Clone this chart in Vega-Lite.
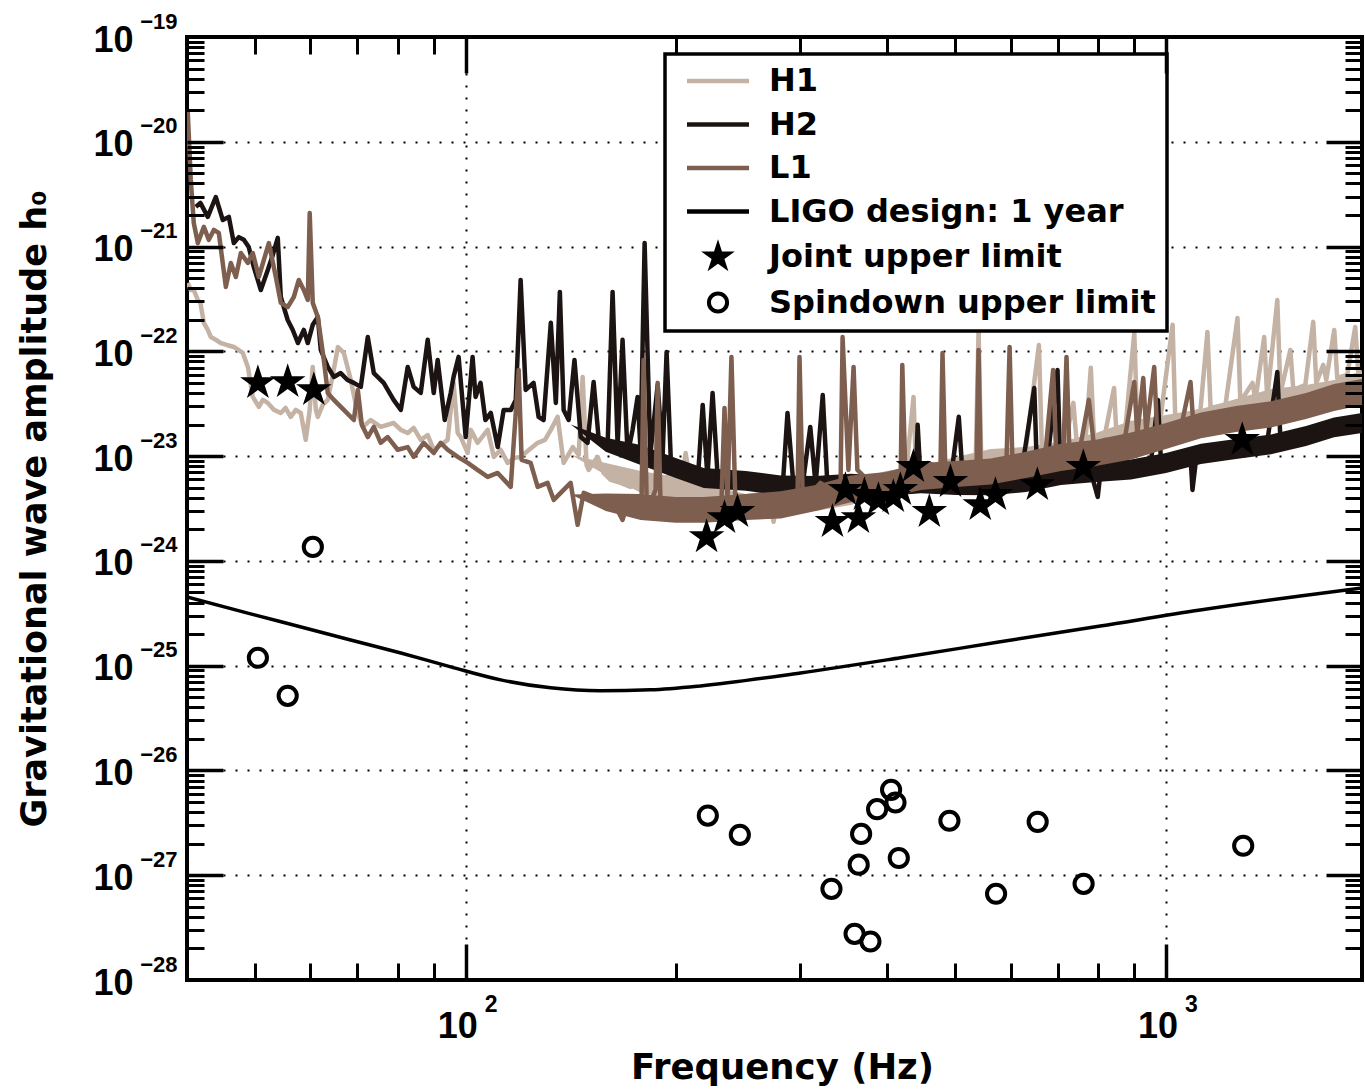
{
"$schema": "https://vega.github.io/schema/vega-lite/v6.json",
"width": 1175, "height": 943,
"autosize": {"type": "none"},
"padding": {"left": 187, "top": 37, "right": 3, "bottom": 112},
"background": "white",
"config": {"view": {"stroke": "black", "strokeWidth": 4}, "axis": {"domain": false, "labelColor": "black", "tickColor": "black", "titleColor": "black", "labelFlush": false, "labelOverlap": false}},
"datasets": {
"H1band": [{"f":141.3,"lo":1.03e-23,"hi":1.03e-23},{"f":158.5,"lo":6.6e-24,"hi":8.6e-24},{"f":177.8,"lo":4.46e-24,"hi":7.22e-24},{"f":199.5,"lo":3.9e-24,"hi":6.33e-24},{"f":218.8,"lo":3.35e-24,"hi":5.43e-24},{"f":251.2,"lo":2.69e-24,"hi":4.36e-24},{"f":281.8,"lo":2.97e-24,"hi":4.81e-24},{"f":316.2,"lo":3.0e-24,"hi":4.87e-24},{"f":354.8,"lo":3.42e-24,"hi":5.67e-24},{"f":398.1,"lo":4.46e-24,"hi":7.22e-24},{"f":446.7,"lo":4.97e-24,"hi":8.06e-24},{"f":501.2,"lo":6.06e-24,"hi":9.83e-24},{"f":562.3,"lo":7.07e-24,"hi":1.17e-23},{"f":631,"lo":7.55e-24,"hi":1.22e-23},{"f":707.9,"lo":8.42e-24,"hi":1.37e-23},{"f":794.3,"lo":1.03e-23,"hi":1.66e-23},{"f":891.3,"lo":1.31e-23,"hi":2.17e-23},{"f":1000,"lo":1.52e-23,"hi":2.47e-23},{"f":1122,"lo":1.74e-23,"hi":2.82e-23},{"f":1258.9,"lo":2.17e-23,"hi":3.51e-23},{"f":1412.5,"lo":2.64e-23,"hi":4.38e-23},{"f":1584.9,"lo":2.95e-23,"hi":4.78e-23},{"f":1737.8,"lo":3.29e-23,"hi":5.33e-23},{"f":1905,"lo":4.01e-23,"hi":6.5e-23}],
"H2band": [{"f":141.3,"lo":2.0e-23,"hi":2.0e-23},{"f":158.5,"lo":1.1e-23,"hi":1.5e-23},{"f":177.8,"lo":8.24e-24,"hi":1.28e-23},{"f":199.5,"lo":6.19e-24,"hi":9.61e-24},{"f":218.8,"lo":4.97e-24,"hi":7.72e-24},{"f":251.2,"lo":4.66e-24,"hi":7.22e-24},{"f":281.8,"lo":4.22e-24,"hi":6.54e-24},{"f":316.2,"lo":4.17e-24,"hi":6.47e-24},{"f":354.8,"lo":4.36e-24,"hi":6.77e-24},{"f":398.1,"lo":4.17e-24,"hi":6.47e-24},{"f":446.7,"lo":4.41e-24,"hi":6.84e-24},{"f":501.2,"lo":4.26e-24,"hi":6.62e-24},{"f":562.3,"lo":4.22e-24,"hi":6.54e-24},{"f":631,"lo":4.55e-24,"hi":7.07e-24},{"f":707.9,"lo":5.31e-24,"hi":8.24e-24},{"f":794.3,"lo":5.67e-24,"hi":8.8e-24},{"f":891.3,"lo":5.99e-24,"hi":9.29e-24},{"f":1000,"lo":6.91e-24,"hi":1.07e-23},{"f":1122,"lo":8.42e-24,"hi":1.31e-23},{"f":1258.9,"lo":9.4e-24,"hi":1.46e-23},{"f":1412.5,"lo":1.04e-23,"hi":1.61e-23},{"f":1584.9,"lo":1.25e-23,"hi":1.94e-23},{"f":1737.8,"lo":1.51e-23,"hi":2.34e-23},{"f":1905,"lo":1.66e-23,"hi":2.58e-23}],
"L1band": [{"f":141.3,"lo":4.3e-24,"hi":4.3e-24},{"f":158.5,"lo":3.0e-24,"hi":4.4e-24},{"f":177.8,"lo":2.46e-24,"hi":4.36e-24},{"f":199.5,"lo":2.31e-24,"hi":4.08e-24},{"f":218.8,"lo":2.31e-24,"hi":4.08e-24},{"f":251.2,"lo":2.46e-24,"hi":4.36e-24},{"f":281.8,"lo":2.54e-24,"hi":4.61e-24},{"f":316.2,"lo":3.0e-24,"hi":5.31e-24},{"f":354.8,"lo":3.62e-24,"hi":6.54e-24},{"f":398.1,"lo":3.99e-24,"hi":7.07e-24},{"f":446.7,"lo":4.76e-24,"hi":8.61e-24},{"f":501.2,"lo":5.08e-24,"hi":9.0e-24},{"f":562.3,"lo":5.37e-24,"hi":9.5e-24},{"f":631,"lo":6.19e-24,"hi":1.1e-23},{"f":707.9,"lo":7.22e-24,"hi":1.31e-23},{"f":794.3,"lo":8.06e-24,"hi":1.43e-23},{"f":891.3,"lo":9.29e-24,"hi":1.68e-23},{"f":1000,"lo":1.17e-23,"hi":2.07e-23},{"f":1122,"lo":1.48e-23,"hi":2.61e-23},{"f":1258.9,"lo":1.7e-23,"hi":3.01e-23},{"f":1412.5,"lo":1.88e-23,"hi":3.33e-23},{"f":1584.9,"lo":2.26e-23,"hi":4.01e-23},{"f":1737.8,"lo":2.7e-23,"hi":4.89e-23},{"f":1905,"lo":3.08e-23,"hi":5.45e-23}],
"H1": [{"f":40.1,"h":4.49e-22},{"f":40.5,"h":3.85e-22},{"f":40.9,"h":3.85e-22},{"f":41.45,"h":3.09e-22},{"f":41.8,"h":2.9e-22},{"f":42.28,"h":1.87e-22},{"f":42.83,"h":1.6e-22},{"f":43.26,"h":1.37e-22},{"f":43.97,"h":1.29e-22},{"f":44.71,"h":1.2e-22},{"f":45.6,"h":1.15e-22},{"f":46.66,"h":1.1e-22},{"f":48.06,"h":9.65e-23},{"f":48.86,"h":7.1e-23},{"f":49.66,"h":3.67e-23},{"f":50.66,"h":2.95e-23},{"f":51.33,"h":3.44e-23},{"f":52.17,"h":3.22e-23},{"f":53.26,"h":2.76e-23},{"f":54.45,"h":2.58e-23},{"f":55.3,"h":2.88e-23},{"f":56.25,"h":2.37e-23},{"f":57.2,"h":2.76e-23},{"f":58.15,"h":2.58e-23},{"f":59.1,"h":1.43e-23},{"f":59.88,"h":2.76e-23},{"f":60.48,"h":7.1e-23},{"f":61.1,"h":2.76e-23},{"f":61.5,"h":2.37e-23},{"f":62.5,"h":3.08e-23},{"f":63.55,"h":3.44e-23},{"f":64.6,"h":5.96e-23},{"f":65.7,"h":1.1e-22},{"f":66.99,"h":9.65e-23},{"f":68.55,"h":5.33e-23},{"f":69.9,"h":2.76e-23},{"f":71.3,"h":1.9e-23},{"f":73.2,"h":2.21e-23},{"f":75.63,"h":1.9e-23},{"f":78.9,"h":2.07e-23},{"f":80.8,"h":1.78e-23},{"f":82.65,"h":1.66e-23},{"f":84.28,"h":1.86e-23},{"f":86.26,"h":1.43e-23},{"f":88.26,"h":1.59e-23},{"f":90.03,"h":1.15e-23},{"f":92.12,"h":1.28e-23},{"f":94.25,"h":1.43e-23},{"f":96.1,"h":5.0e-23},{"f":97.42,"h":1.66e-23},{"f":98.4,"h":1.52e-23},{"f":100.67,"h":1.07e-23},{"f":101.7,"h":1.78e-23},{"f":103.97,"h":1.34e-23},{"f":107.5,"h":1.78e-23},{"f":109.7,"h":9.83e-24},{"f":112.2,"h":1.15e-23},{"f":114.8,"h":8.61e-24},{"f":117.2,"h":9.6e-24},{"f":119.8,"h":9.83e-24},{"f":123.2,"h":1.15e-23},{"f":126.7,"h":1.34e-23},{"f":129.8,"h":1.43e-23},{"f":132.3,"h":1.78e-23},{"f":135.3,"h":2.37e-23},{"f":138.0,"h":8.61e-24},{"f":142.2,"h":1.22e-23},{"f":145.0,"h":1.03e-23},{"f":146.9,"h":5.7e-23},{"f":148.8,"h":8.24e-24},{"f":149.8,"h":7.39e-24},{"f":154.3,"h":9.83e-24},{"f":157.4,"h":6.91e-24},{"f":161.1,"h":5.93e-24},{"f":166.4,"h":5.55e-24},{"f":172.0,"h":5.08e-24},{"f":177.7,"h":5.93e-24},{"f":185.5,"h":5.55e-24},{"f":194.4,"h":6.33e-24},{"f":202.7,"h":4.76e-24},{"f":206.1,"h":1.07e-23},{"f":209.5,"h":5.31e-24},{"f":214.4,"h":5.55e-24},{"f":221.4,"h":4.46e-24},{"f":228.9,"h":4.76e-24},{"f":236.5,"h":4.08e-24},{"f":247.1,"h":3.58e-24},{"f":261,"h":3.28e-24},{"f":272.4,"h":3.42e-24},{"f":275.2,"h":2.36e-24},{"f":277.9,"h":3.42e-24},{"f":291,"h":3.82e-24},{"f":300.7,"h":3.99e-24},{"f":316,"h":4.26e-24},{"f":332,"h":4.55e-24},{"f":348.5,"h":4.76e-24},{"f":366,"h":5.08e-24},{"f":385,"h":5.31e-24},{"f":404,"h":5.67e-24},{"f":424.5,"h":5.93e-24},{"f":436,"h":3.67e-23},{"f":440,"h":6.2e-24},{"f":461,"h":6.62e-24},{"f":484,"h":7.06e-24},{"f":508,"h":7.39e-24},{"f":534.7,"h":7.72e-24},{"f":540,"h":1.6e-22},{"f":545,"h":8.06e-24},{"f":571,"h":8.8e-24},{"f":600,"h":9.6e-24},{"f":630,"h":1.1e-23},{"f":658.5,"h":1.15e-22},{"f":665,"h":1.15e-23},{"f":694.5,"h":1.22e-23},{"f":718,"h":1.37e-23},{"f":737.5,"h":3.22e-23},{"f":745,"h":1.43e-23},{"f":768,"h":1.49e-23},{"f":781,"h":6.97e-23},{"f":789,"h":1.52e-23},{"f":819.5,"h":1.7e-23},{"f":843,"h":4.47e-23},{"f":849,"h":1.78e-23},{"f":875,"h":1.86e-23},{"f":901,"h":1.5e-22},{"f":910,"h":1.99e-23},{"f":950,"h":2.21e-23},{"f":980,"h":2.07e-23},{"f":1022,"h":1.79e-22},{"f":1031,"h":2.31e-23},{"f":1084,"h":2.47e-23},{"f":1120,"h":2.76e-23},{"f":1146,"h":1.53e-22},{"f":1158,"h":2.88e-23},{"f":1216,"h":3.08e-23},{"f":1265,"h":2.08e-22},{"f":1277,"h":3.29e-23},{"f":1329,"h":5.0e-23},{"f":1342,"h":3.44e-23},{"f":1381,"h":1.37e-22},{"f":1395,"h":3.59e-23},{"f":1442,"h":3.09e-22},{"f":1457,"h":4.01e-23},{"f":1505,"h":1.03e-22},{"f":1520,"h":4.28e-23},{"f":1581,"h":4.78e-23},{"f":1623,"h":1.91e-22},{"f":1639,"h":5.0e-23},{"f":1677,"h":7.42e-23},{"f":1694,"h":5.33e-23},{"f":1739,"h":1.6e-22},{"f":1756,"h":5.57e-23},{"f":1815,"h":5.96e-23},{"f":1863,"h":1.71e-22},{"f":1882,"h":6.2e-23},{"f":1905,"h":6.35e-23}],
"H2": [{"f":41.18,"h":2.39e-21},{"f":41.8,"h":2.61e-21},{"f":42.83,"h":1.92e-21},{"f":43.97,"h":2.97e-21},{"f":45.0,"h":1.79e-21},{"f":45.9,"h":1.92e-21},{"f":46.66,"h":1.08e-21},{"f":47.43,"h":1.23e-21},{"f":48.22,"h":1.16e-21},{"f":49.0,"h":9.9e-22},{"f":49.82,"h":6.39e-22},{"f":50.99,"h":3.85e-22},{"f":52.17,"h":5.98e-22},{"f":53.04,"h":8.32e-22},{"f":53.91,"h":1.21e-21},{"f":54.45,"h":3.3e-22},{"f":55.7,"h":1.99e-22},{"f":56.64,"h":1.6e-22},{"f":57.6,"h":1.2e-22},{"f":58.73,"h":1.6e-22},{"f":59.5,"h":1.2e-22},{"f":60.48,"h":1.79e-22},{"f":61.5,"h":2.13e-22},{"f":62.1,"h":1.03e-22},{"f":63.55,"h":7.1e-23},{"f":64.82,"h":5.7e-23},{"f":66.3,"h":6.2e-23},{"f":67.8,"h":5.33e-23},{"f":69.23,"h":5.0e-23},{"f":70.83,"h":4.58e-23},{"f":72.48,"h":1.37e-22},{"f":73.93,"h":6.2e-23},{"f":76.37,"h":5.0e-23},{"f":78.9,"h":3.44e-23},{"f":80.8,"h":2.76e-23},{"f":82.65,"h":7.1e-23},{"f":84.28,"h":4.58e-23},{"f":86.26,"h":4.01e-23},{"f":88.26,"h":1.29e-22},{"f":90.03,"h":4.01e-23},{"f":91.2,"h":8.28e-23},{"f":93.35,"h":2.21e-23},{"f":95.2,"h":4.01e-23},{"f":96.1,"h":5.7e-23},{"f":97.7,"h":8.85e-23},{"f":100,"h":1.52e-23},{"f":102.3,"h":8.85e-23},{"f":103.3,"h":3.67e-23},{"f":105,"h":5.0e-23},{"f":106.7,"h":2.21e-23},{"f":108.6,"h":2.58e-23},{"f":111.1,"h":1.22e-23},{"f":113.3,"h":2.76e-23},{"f":116,"h":2.76e-23},{"f":117.9,"h":3.44e-23},{"f":119.8,"h":4.8e-22},{"f":121.8,"h":4.28e-23},{"f":125,"h":5.0e-23},{"f":127.1,"h":2.37e-23},{"f":129.2,"h":2.21e-23},{"f":132.3,"h":1.87e-22},{"f":134.5,"h":3.22e-23},{"f":136.3,"h":3.69e-22},{"f":138.0,"h":2.76e-23},{"f":140.3,"h":2.21e-23},{"f":143,"h":8.28e-23},{"f":146,"h":1.52e-23},{"f":149.3,"h":1.34e-23},{"f":152.3,"h":5.1e-23},{"f":154.9,"h":1.43e-23},{"f":159.5,"h":1.34e-23},{"f":162.1,"h":3.69e-22},{"f":164.8,"h":1.28e-23},{"f":167.5,"h":1.29e-22},{"f":170.3,"h":1.03e-23},{"f":173.1,"h":1.78e-23},{"f":176.0,"h":3.67e-23},{"f":177.7,"h":1.15e-23},{"f":180.1,"h":1.08e-21},{"f":183.5,"h":1.03e-23},{"f":188.0,"h":4.78e-23},{"f":191.1,"h":1.03e-23},{"f":193.6,"h":9.85e-23},{"f":196.3,"h":9.2e-24},{"f":202.7,"h":7.39e-24},{"f":209.5,"h":7.39e-24},{"f":214.4,"h":5.67e-24},{"f":218.0,"h":3.08e-23},{"f":221.4,"h":6.33e-24},{"f":225.2,"h":4.01e-23},{"f":228.9,"h":6.62e-24},{"f":236.5,"h":5.55e-24},{"f":247.1,"h":5.93e-24},{"f":258.4,"h":6.33e-24},{"f":267.5,"h":5.08e-24},{"f":275.2,"h":5.55e-24},{"f":283.7,"h":5.31e-24},{"f":288.1,"h":2.58e-23},{"f":294.2,"h":4.76e-24},{"f":302.8,"h":5.31e-24},{"f":310.5,"h":1.9e-23},{"f":316,"h":5.31e-24},{"f":323.5,"h":3.83e-23},{"f":328.5,"h":5.31e-24},{"f":343,"h":4.98e-24},{"f":360,"h":4.76e-24},{"f":378.4,"h":5.08e-24},{"f":397.5,"h":4.98e-24},{"f":418,"h":5.31e-24},{"f":439,"h":5.55e-24},{"f":442,"h":1.99e-23},{"f":446.5,"h":5.55e-24},{"f":468.6,"h":5.31e-24},{"f":492,"h":5.55e-24},{"f":506,"h":2.37e-23},{"f":513,"h":5.67e-24},{"f":534.7,"h":5.31e-24},{"f":562,"h":5.55e-24},{"f":589,"h":5.31e-24},{"f":619.5,"h":5.93e-24},{"f":648.5,"h":4.47e-23},{"f":655,"h":5.93e-24},{"f":673,"h":6.2e-24},{"f":700,"h":6.65e-23},{"f":707,"h":6.33e-24},{"f":743,"h":6.62e-24},{"f":768,"h":5.93e-24},{"f":781,"h":7.06e-24},{"f":799,"h":4.08e-24},{"f":807,"h":7.39e-24},{"f":847,"h":7.72e-24},{"f":866,"h":6.62e-24},{"f":890,"h":8.24e-24},{"f":935,"h":9.2e-24},{"f":950,"h":7.89e-24},{"f":974,"h":3.44e-23},{"f":983,"h":9.6e-24},{"f":1031,"h":1.03e-23},{"f":1066,"h":8.8e-24},{"f":1084,"h":1.0e-23},{"f":1091,"h":4.76e-24},{"f":1105,"h":9.83e-24},{"f":1158,"h":1.03e-23},{"f":1188,"h":1.2e-23},{"f":1216,"h":1.12e-23},{"f":1277,"h":1.2e-23},{"f":1311,"h":1.43e-23},{"f":1342,"h":1.28e-23},{"f":1395,"h":1.37e-23},{"f":1442,"h":6.35e-23},{"f":1457,"h":1.43e-23},{"f":1530,"h":1.49e-23},{"f":1570,"h":1.78e-23},{"f":1605,"h":1.63e-23},{"f":1685,"h":1.74e-23},{"f":1733,"h":1.99e-23},{"f":1774,"h":1.86e-23},{"f":1845,"h":1.93e-23},{"f":1905,"h":2.07e-23}],
"L1": [{"f":40.1,"h":1.93e-20},{"f":40.5,"h":4.32e-21},{"f":40.9,"h":1.68e-21},{"f":41.45,"h":1.08e-21},{"f":42.28,"h":1.54e-21},{"f":42.97,"h":1.16e-21},{"f":43.69,"h":1.44e-21},{"f":44.41,"h":1.35e-21},{"f":45.45,"h":4.12e-22},{"f":46.2,"h":6.97e-22},{"f":46.97,"h":5.13e-22},{"f":47.75,"h":8.68e-22},{"f":48.86,"h":6.97e-22},{"f":49.66,"h":8.68e-22},{"f":50.66,"h":5.13e-22},{"f":52.35,"h":1.08e-21},{"f":53.57,"h":5.13e-22},{"f":54.45,"h":2.9e-22},{"f":55.7,"h":2.65e-22},{"f":56.83,"h":3.3e-22},{"f":57.77,"h":4.8e-22},{"f":58.73,"h":3.85e-22},{"f":59.5,"h":3.09e-22},{"f":59.88,"h":2.09e-21},{"f":60.48,"h":2.9e-22},{"f":61.5,"h":2.13e-22},{"f":62.72,"h":8.28e-23},{"f":63.55,"h":4.01e-23},{"f":64.82,"h":3.44e-23},{"f":66.99,"h":2.76e-23},{"f":69.23,"h":2.21e-23},{"f":70.14,"h":4.28e-23},{"f":71.07,"h":1.99e-23},{"f":72.48,"h":1.52e-23},{"f":73.93,"h":1.9e-23},{"f":75.63,"h":1.34e-23},{"f":77.39,"h":1.52e-23},{"f":79.97,"h":1.15e-23},{"f":82.65,"h":1.22e-23},{"f":84.28,"h":9.83e-24},{"f":87.11,"h":1.34e-23},{"f":90.03,"h":1.07e-23},{"f":92.12,"h":1.34e-23},{"f":94.25,"h":1.15e-23},{"f":97.42,"h":9.83e-24},{"f":100.67,"h":8.61e-24},{"f":103.97,"h":7.39e-24},{"f":107.5,"h":6.33e-24},{"f":111.1,"h":6.91e-24},{"f":115.96,"h":5.08e-24},{"f":119.04,"h":6.65e-23},{"f":120.2,"h":9.2e-24},{"f":123.8,"h":8.61e-24},{"f":126.7,"h":5.08e-24},{"f":130.9,"h":5.55e-24},{"f":133.6,"h":3.82e-24},{"f":138.0,"h":4.76e-24},{"f":141.2,"h":5.55e-24},{"f":144.5,"h":2.21e-24},{"f":147.4,"h":4.46e-24},{"f":152.3,"h":4.08e-24},{"f":157.4,"h":3.82e-24},{"f":162.7,"h":3.58e-24},{"f":167.5,"h":2.46e-24},{"f":170.3,"h":3.58e-24},{"f":176.0,"h":2.87e-24},{"f":178.3,"h":3.82e-24},{"f":179.5,"h":8.28e-23},{"f":181.3,"h":3.82e-24},{"f":183.5,"h":3.58e-24},{"f":186.7,"h":4.76e-24},{"f":188,"h":5.0e-23},{"f":189.8,"h":3.42e-24},{"f":198.1,"h":2.87e-24},{"f":204.8,"h":2.63e-24},{"f":211.5,"h":3.07e-24},{"f":218.6,"h":3.82e-24},{"f":225.9,"h":3.28e-24},{"f":231.9,"h":3.82e-24},{"f":234.2,"h":2.88e-23},{"f":236.5,"h":3.82e-24},{"f":239.6,"h":8.85e-23},{"f":242.8,"h":3.42e-24},{"f":255.2,"h":3.58e-24},{"f":263.7,"h":3.28e-24},{"f":275.2,"h":4.08e-24},{"f":288.1,"h":4.08e-24},{"f":297.8,"h":4.26e-24},{"f":299.7,"h":8.85e-23},{"f":302.8,"h":4.26e-24},{"f":307.9,"h":4.08e-24},{"f":321,"h":5.55e-24},{"f":332,"h":4.76e-24},{"f":343,"h":5.31e-24},{"f":345.3,"h":1.37e-22},{"f":352,"h":7.39e-24},{"f":358,"h":7.1e-23},{"f":362.5,"h":7.39e-24},{"f":378.4,"h":5.55e-24},{"f":391,"h":6.33e-24},{"f":408,"h":6.33e-24},{"f":418,"h":6.62e-24},{"f":420.2,"h":7.42e-23},{"f":424.5,"h":6.62e-24},{"f":431.6,"h":6.33e-24},{"f":456.4,"h":8.61e-24},{"f":476.4,"h":7.72e-24},{"f":479.6,"h":9.65e-23},{"f":484,"h":7.72e-24},{"f":492,"h":7.39e-24},{"f":514,"h":8.61e-24},{"f":536.5,"h":8.24e-24},{"f":540,"h":1.03e-22},{"f":543.5,"h":8.24e-24},{"f":556,"h":7.89e-24},{"f":581,"h":8.61e-24},{"f":592,"h":9.2e-24},{"f":598,"h":1.1e-22},{"f":603.5,"h":8.8e-24},{"f":630,"h":1.03e-23},{"f":651,"h":8.8e-24},{"f":673,"h":1.1e-23},{"f":690,"h":6.65e-23},{"f":697,"h":1.03e-23},{"f":713.8,"h":1.15e-23},{"f":721,"h":8.85e-23},{"f":728,"h":1.1e-23},{"f":754,"h":1.2e-23},{"f":776,"h":3.44e-23},{"f":789,"h":1.28e-23},{"f":819.5,"h":1.43e-23},{"f":847,"h":1.28e-23},{"f":875,"h":1.59e-23},{"f":901,"h":5.1e-23},{"f":910,"h":1.59e-23},{"f":928,"h":5.57e-23},{"f":937,"h":1.7e-23},{"f":962,"h":7.1e-23},{"f":971,"h":1.78e-23},{"f":1015,"h":1.99e-23},{"f":1049,"h":1.78e-23},{"f":1084,"h":5.1e-23},{"f":1094,"h":1.99e-23},{"f":1139,"h":2.21e-23},{"f":1177,"h":1.99e-23},{"f":1228,"h":2.47e-23},{"f":1277,"h":2.31e-23},{"f":1329,"h":2.76e-23},{"f":1386,"h":2.64e-23},{"f":1447,"h":3.08e-23},{"f":1505,"h":2.88e-23},{"f":1565,"h":3.44e-23},{"f":1634,"h":3.29e-23},{"f":1704,"h":3.83e-23},{"f":1774,"h":3.59e-23},{"f":1845,"h":4.28e-23},{"f":1905,"h":4.78e-23}],
"design": [{"f":40,"h":4.53e-25},{"f":49.3,"h":3.12e-25},{"f":58.2,"h":2.34e-25},{"f":68.5,"h":1.76e-25},{"f":80.8,"h":1.32e-25},{"f":95.2,"h":9.74e-26},{"f":112.2,"h":7.32e-26},{"f":132.2,"h":6.14e-26},{"f":155.8,"h":5.75e-26},{"f":183.7,"h":5.88e-26},{"f":216.4,"h":6.41e-26},{"f":300.7,"h":8.53e-26},{"f":417.6,"h":1.19e-25},{"f":580,"h":1.69e-25},{"f":805.9,"h":2.39e-25},{"f":1119,"h":3.4e-25},{"f":1555,"h":4.63e-25},{"f":1905,"h":5.52e-25}],
"joint": [{"f":50.5,"h":4.99e-23},{"f":55.7,"h":5.1e-23},{"f":60.7,"h":4.28e-23},{"f":220.8,"h":1.69e-24},{"f":234.2,"h":2.57e-24},{"f":244.4,"h":2.94e-24},{"f":334,"h":2.36e-24},{"f":348.5,"h":4.76e-24},{"f":363.8,"h":2.57e-24},{"f":371,"h":4.27e-24},{"f":388.5,"h":3.82e-24},{"f":408,"h":4.08e-24},{"f":417.6,"h":4.76e-24},{"f":435.9,"h":7.89e-24},{"f":459.3,"h":2.94e-24},{"f":492.3,"h":5.68e-24},{"f":543,"h":3.42e-24},{"f":570.7,"h":4.27e-24},{"f":655.1,"h":5.31e-24},{"f":762,"h":7.89e-24},{"f":1285,"h":1.43e-23}],
"spindown": [{"f":50.5,"h":1.19e-25},{"f":55.7,"h":5.15e-26},{"f":60.5,"h":1.36e-24},{"f":221.7,"h":3.71e-27},{"f":246.3,"h":2.43e-27},{"f":332.9,"h":7.41e-28},{"f":359.2,"h":2.76e-28},{"f":364.1,"h":1.26e-27},{"f":367,"h":2.48e-27},{"f":378.4,"h":2.33e-28},{"f":386.8,"h":4.27e-27},{"f":405,"h":6.53e-27},{"f":410.9,"h":4.94e-27},{"f":415.4,"h":1.46e-27},{"f":490.6,"h":3.31e-27},{"f":572,"h":6.65e-28},{"f":655.8,"h":3.23e-27},{"f":762.7,"h":8.28e-28},{"f":1289,"h":1.91e-27}]
},
"resolve": {"axis": {"x": "independent", "y": "independent"}},
"layer": [
{"data": {"name": "H1band"},
 "mark": {"type": "area", "color": "#c4b2a4", "opacity": 1, "clip": true},
 "encoding": {
  "x": {"field": "f", "type": "quantitative", "scale": {"type": "log", "domain": [40, 1905], "nice": false}, "axis": null},
  "y": {"field": "lo", "type": "quantitative", "scale": {"type": "log", "domain": [1e-28, 1e-19], "nice": false}, "axis": null},
  "y2": {"field": "hi"}
 }},
{"data": {"name": "H1"},
 "mark": {"type": "line", "strokeWidth": 4.5, "clip": true, "strokeJoin": "round"},
 "encoding": {
  "x": {"field": "f", "type": "quantitative", "scale": {"type": "log", "domain": [40, 1905], "nice": false},
        "axis": {"orient": "bottom", "values": [100, 1000], "ticks": false, "domain": false, "labelExpr": "'10'", "labelFont": "Liberation Sans", "labelFontWeight": "bold", "labelFontSize": 36, "labelPadding": 29, "labelBaseline": "top", "labelAlign": "center", "labelOffset": -8.5, "labelFlush": false, "labelOverlap": false, "grid": true, "gridColor": "black", "gridDash": [2, 10], "gridWidth": 2, "gridOpacity": 1, "title": "Frequency (Hz)", "titleFont": "DejaVu Sans", "titleFontWeight": "bold", "titleFontSize": 35.5, "titleX": 595, "titleY": 98, "titleBaseline": "alphabetic", "titleAlign": "center", "titleAngle": 0}},
  "y": {"field": "h", "type": "quantitative", "scale": {"type": "log", "domain": [1e-28, 1e-19], "nice": false},
        "axis": {"orient": "left", "values": [1e-28,1e-27,1e-26,1e-25,1e-24,1e-23,1e-22,1e-21,1e-20,1e-19], "ticks": false, "domain": false, "labelExpr": "'10'", "labelFont": "Liberation Sans", "labelFontWeight": "bold", "labelFontSize": 36, "labelPadding": 54, "labelBaseline": "middle", "labelAlign": "right", "labelOffset": 3, "labelFlush": false, "labelOverlap": false, "grid": true, "gridColor": "black", "gridDash": [2, 10], "gridWidth": 2, "gridOpacity": 1, "title": "Gravitational wave amplitude h₀", "titleFont": "DejaVu Sans", "titleFontWeight": "bold", "titleFontSize": 35, "titleAngle": -90, "titleX": -135, "titleY": 471.5, "titleBaseline": "bottom", "titleAlign": "center"}},
  "color": {"datum": "H1", "type": "nominal",
   "scale": {"domain": ["H1", "H2", "L1", "LIGO design: 1 year", "Joint upper limit", "Spindown upper limit"], "range": ["#c4b2a4", "#1c1412", "#7e5f4f", "#000000", "#000000", "#000000"]},
   "legend": {"title": null, "orient": "none", "legendX": 478, "legendY": 17, "padding": 11, "fillColor": "white", "strokeColor": "black",
     "labelFont": "DejaVu Sans", "labelFontWeight": "bold", "labelFontSize": 32, "labelColor": "black", "labelLimit": 600, "labelOffset": 61,
     "symbolSize": 900, "rowPadding": 11.5,
     "encode": {
       "symbols": {"update": {
         "shape": {"signal": "datum.value === 'Joint upper limit' ? 'M0,-1L0.2245,-0.309L0.951,-0.309L0.363,0.118L0.588,0.809L0,0.382L-0.588,0.809L-0.363,0.118L-0.951,-0.309L-0.2245,-0.309Z' : datum.value === 'Spindown upper limit' ? 'circle' : 'stroke'"},
         "size": {"signal": "datum.value === 'Joint upper limit' ? 1250 : datum.value === 'Spindown upper limit' ? 330 : 3844"},
         "fill": {"signal": "datum.value === 'Joint upper limit' ? 'black' : 'transparent'"},
         "fillOpacity": {"signal": "datum.value === 'Joint upper limit' ? 1 : 0"},
         "stroke": {"signal": "datum.value === 'H1' ? '#c4b2a4' : datum.value === 'L1' ? '#7e5f4f' : datum.value === 'Joint upper limit' ? 'transparent' : 'black'"},
         "strokeWidth": {"signal": "datum.value === 'Joint upper limit' ? 0 : datum.value === 'Spindown upper limit' ? 4 : 4.5"},
         "opacity": {"value": 1},
         "x": {"value": 42}}},
       "legend": {"update": {"stroke": {"value": "black"}, "strokeWidth": {"value": 3.5}, "fill": {"value": "white"}}}}}}
 }},
{"data": {"name": "H2band"},
 "mark": {"type": "area", "color": "#1c1412", "opacity": 1, "clip": true},
 "encoding": {
  "x": {"field": "f", "type": "quantitative", "scale": {"type": "log", "domain": [40, 1905], "nice": false}, "axis": null},
  "y": {"field": "lo", "type": "quantitative", "scale": {"type": "log", "domain": [1e-28, 1e-19], "nice": false}, "axis": null},
  "y2": {"field": "hi"}
 }},
{"data": {"name": "H2"},
 "mark": {"type": "line", "strokeWidth": 4.5, "clip": true, "strokeJoin": "round"},
 "encoding": {
  "x": {"field": "f", "type": "quantitative", "scale": {"type": "log", "domain": [40, 1905], "nice": false},
        "axis": {"orient": "bottom", "values": [100, 1000], "ticks": false, "domain": false, "grid": false, "labelExpr": "'' + round(log(datum.value)/LN10)", "labelFont": "Liberation Sans", "labelFontWeight": "bold", "labelFontSize": 23, "labelPadding": 13, "labelBaseline": "top", "labelAlign": "center", "labelOffset": 25, "labelFlush": false, "labelOverlap": false, "title": null}},
  "y": {"field": "h", "type": "quantitative", "scale": {"type": "log", "domain": [1e-28, 1e-19], "nice": false},
        "axis": {"orient": "left", "values": [1e-28,1e-27,1e-26,1e-25,1e-24,1e-23,1e-22,1e-21,1e-20,1e-19], "ticks": false, "domain": false, "grid": false, "labelExpr": "'−' + round(-log(datum.value)/LN10)", "labelFont": "Liberation Sans", "labelFontWeight": "bold", "labelFontSize": 22, "labelPadding": 10, "labelBaseline": "middle", "labelAlign": "right", "labelOffset": -16, "labelFlush": false, "labelOverlap": false, "title": null}},
  "color": {"datum": "H2", "type": "nominal", "scale": {"domain": ["H1", "H2", "L1", "LIGO design: 1 year", "Joint upper limit", "Spindown upper limit"], "range": ["#c4b2a4", "#1c1412", "#7e5f4f", "#000000", "#000000", "#000000"]}}
 }},
{"data": {"name": "L1band"},
 "mark": {"type": "area", "color": "#7e5f4f", "opacity": 1, "clip": true},
 "encoding": {
  "x": {"field": "f", "type": "quantitative", "scale": {"type": "log", "domain": [40, 1905], "nice": false}, "axis": null},
  "y": {"field": "lo", "type": "quantitative", "scale": {"type": "log", "domain": [1e-28, 1e-19], "nice": false}, "axis": null},
  "y2": {"field": "hi"}
 }},
{"data": {"name": "L1"},
 "mark": {"type": "line", "strokeWidth": 4.5, "clip": true, "strokeJoin": "round"},
 "encoding": {
  "x": {"field": "f", "type": "quantitative", "scale": {"type": "log", "domain": [40, 1905], "nice": false},
        "axis": {"orient": "bottom", "values": [100, 1000], "labels": false, "ticks": true, "tickSize": -36, "tickWidth": 3.5, "tickColor": "black", "domain": false, "grid": false, "title": null, "zindex": 1}},
  "y": {"field": "h", "type": "quantitative", "scale": {"type": "log", "domain": [1e-28, 1e-19], "nice": false},
        "axis": {"orient": "left", "values": [1e-27,1e-26,1e-25,1e-24,1e-23,1e-22,1e-21,1e-20], "labels": false, "ticks": true, "tickSize": -36, "tickWidth": 3.5, "tickColor": "black", "domain": false, "grid": false, "title": null, "zindex": 1}},
  "color": {"datum": "L1", "type": "nominal", "scale": {"domain": ["H1", "H2", "L1", "LIGO design: 1 year", "Joint upper limit", "Spindown upper limit"], "range": ["#c4b2a4", "#1c1412", "#7e5f4f", "#000000", "#000000", "#000000"]}}
 }},
{"data": {"name": "design"},
 "mark": {"type": "line", "strokeWidth": 3.5, "clip": true, "interpolate": "monotone"},
 "encoding": {
  "x": {"field": "f", "type": "quantitative", "scale": {"type": "log", "domain": [40, 1905], "nice": false},
        "axis": {"orient": "bottom", "values": [50,60,70,80,90,200,300,400,500,600,700,800,900], "labels": false, "ticks": true, "tickSize": -17, "tickWidth": 3, "tickColor": "black", "domain": false, "grid": false, "title": null, "zindex": 1}},
  "y": {"field": "h", "type": "quantitative", "scale": {"type": "log", "domain": [1e-28, 1e-19], "nice": false},
        "axis": {"orient": "left", "values": [2e-28,3e-28,4e-28,5e-28,6e-28,7e-28,8e-28,9e-28,2e-27,3e-27,4e-27,5e-27,6e-27,7e-27,8e-27,9e-27,2e-26,3e-26,4e-26,5e-26,6e-26,7e-26,8e-26,9e-26,2e-25,3e-25,4e-25,5e-25,6e-25,7e-25,8e-25,9e-25,2e-24,3e-24,4e-24,5e-24,6e-24,7e-24,8e-24,9e-24,2e-23,3e-23,4e-23,5e-23,6e-23,7e-23,8e-23,9e-23,2e-22,3e-22,4e-22,5e-22,6e-22,7e-22,8e-22,9e-22,2e-21,3e-21,4e-21,5e-21,6e-21,7e-21,8e-21,9e-21,2e-20,3e-20,4e-20,5e-20,6e-20,7e-20,8e-20,9e-20], "labels": false, "ticks": true, "tickSize": -17, "tickWidth": 3, "tickColor": "black", "domain": false, "grid": false, "title": null, "zindex": 1}},
  "color": {"datum": "LIGO design: 1 year", "type": "nominal", "scale": {"domain": ["H1", "H2", "L1", "LIGO design: 1 year", "Joint upper limit", "Spindown upper limit"], "range": ["#c4b2a4", "#1c1412", "#7e5f4f", "#000000", "#000000", "#000000"]}}
 }},
{"data": {"name": "joint"},
 "mark": {"type": "point", "shape": "M0,-1L0.2245,-0.309L0.951,-0.309L0.363,0.118L0.588,0.809L0,0.382L-0.588,0.809L-0.363,0.118L-0.951,-0.309L-0.2245,-0.309Z", "filled": true, "size": 1400, "opacity": 1},
 "encoding": {
  "x": {"field": "f", "type": "quantitative", "scale": {"type": "log", "domain": [40, 1905], "nice": false},
        "axis": {"orient": "top", "values": [100, 1000], "labels": false, "ticks": true, "tickSize": -36, "tickWidth": 3.5, "tickColor": "black", "domain": false, "grid": false, "title": null, "zindex": 1}},
  "y": {"field": "h", "type": "quantitative", "scale": {"type": "log", "domain": [1e-28, 1e-19], "nice": false},
        "axis": {"orient": "right", "values": [1e-27,1e-26,1e-25,1e-24,1e-23,1e-22,1e-21,1e-20], "labels": false, "ticks": true, "tickSize": -36, "tickWidth": 3.5, "tickColor": "black", "domain": false, "grid": false, "title": null, "zindex": 1}},
  "color": {"datum": "Joint upper limit", "type": "nominal", "scale": {"domain": ["H1", "H2", "L1", "LIGO design: 1 year", "Joint upper limit", "Spindown upper limit"], "range": ["#c4b2a4", "#1c1412", "#7e5f4f", "#000000", "#000000", "#000000"]}}
 }},
{"data": {"name": "spindown"},
 "mark": {"type": "point", "shape": "circle", "filled": false, "size": 330, "strokeWidth": 4, "opacity": 1},
 "encoding": {
  "x": {"field": "f", "type": "quantitative", "scale": {"type": "log", "domain": [40, 1905], "nice": false},
        "axis": {"orient": "top", "values": [50,60,70,80,90,200,300,400,500,600,700,800,900], "labels": false, "ticks": true, "tickSize": -17, "tickWidth": 3, "tickColor": "black", "domain": false, "grid": false, "title": null, "zindex": 1}},
  "y": {"field": "h", "type": "quantitative", "scale": {"type": "log", "domain": [1e-28, 1e-19], "nice": false},
        "axis": {"orient": "right", "values": [2e-28,3e-28,4e-28,5e-28,6e-28,7e-28,8e-28,9e-28,2e-27,3e-27,4e-27,5e-27,6e-27,7e-27,8e-27,9e-27,2e-26,3e-26,4e-26,5e-26,6e-26,7e-26,8e-26,9e-26,2e-25,3e-25,4e-25,5e-25,6e-25,7e-25,8e-25,9e-25,2e-24,3e-24,4e-24,5e-24,6e-24,7e-24,8e-24,9e-24,2e-23,3e-23,4e-23,5e-23,6e-23,7e-23,8e-23,9e-23,2e-22,3e-22,4e-22,5e-22,6e-22,7e-22,8e-22,9e-22,2e-21,3e-21,4e-21,5e-21,6e-21,7e-21,8e-21,9e-21,2e-20,3e-20,4e-20,5e-20,6e-20,7e-20,8e-20,9e-20], "labels": false, "ticks": true, "tickSize": -17, "tickWidth": 3, "tickColor": "black", "domain": false, "grid": false, "title": null, "zindex": 1}},
  "color": {"datum": "Spindown upper limit", "type": "nominal", "scale": {"domain": ["H1", "H2", "L1", "LIGO design: 1 year", "Joint upper limit", "Spindown upper limit"], "range": ["#c4b2a4", "#1c1412", "#7e5f4f", "#000000", "#000000", "#000000"]}}
 }}
]
}
